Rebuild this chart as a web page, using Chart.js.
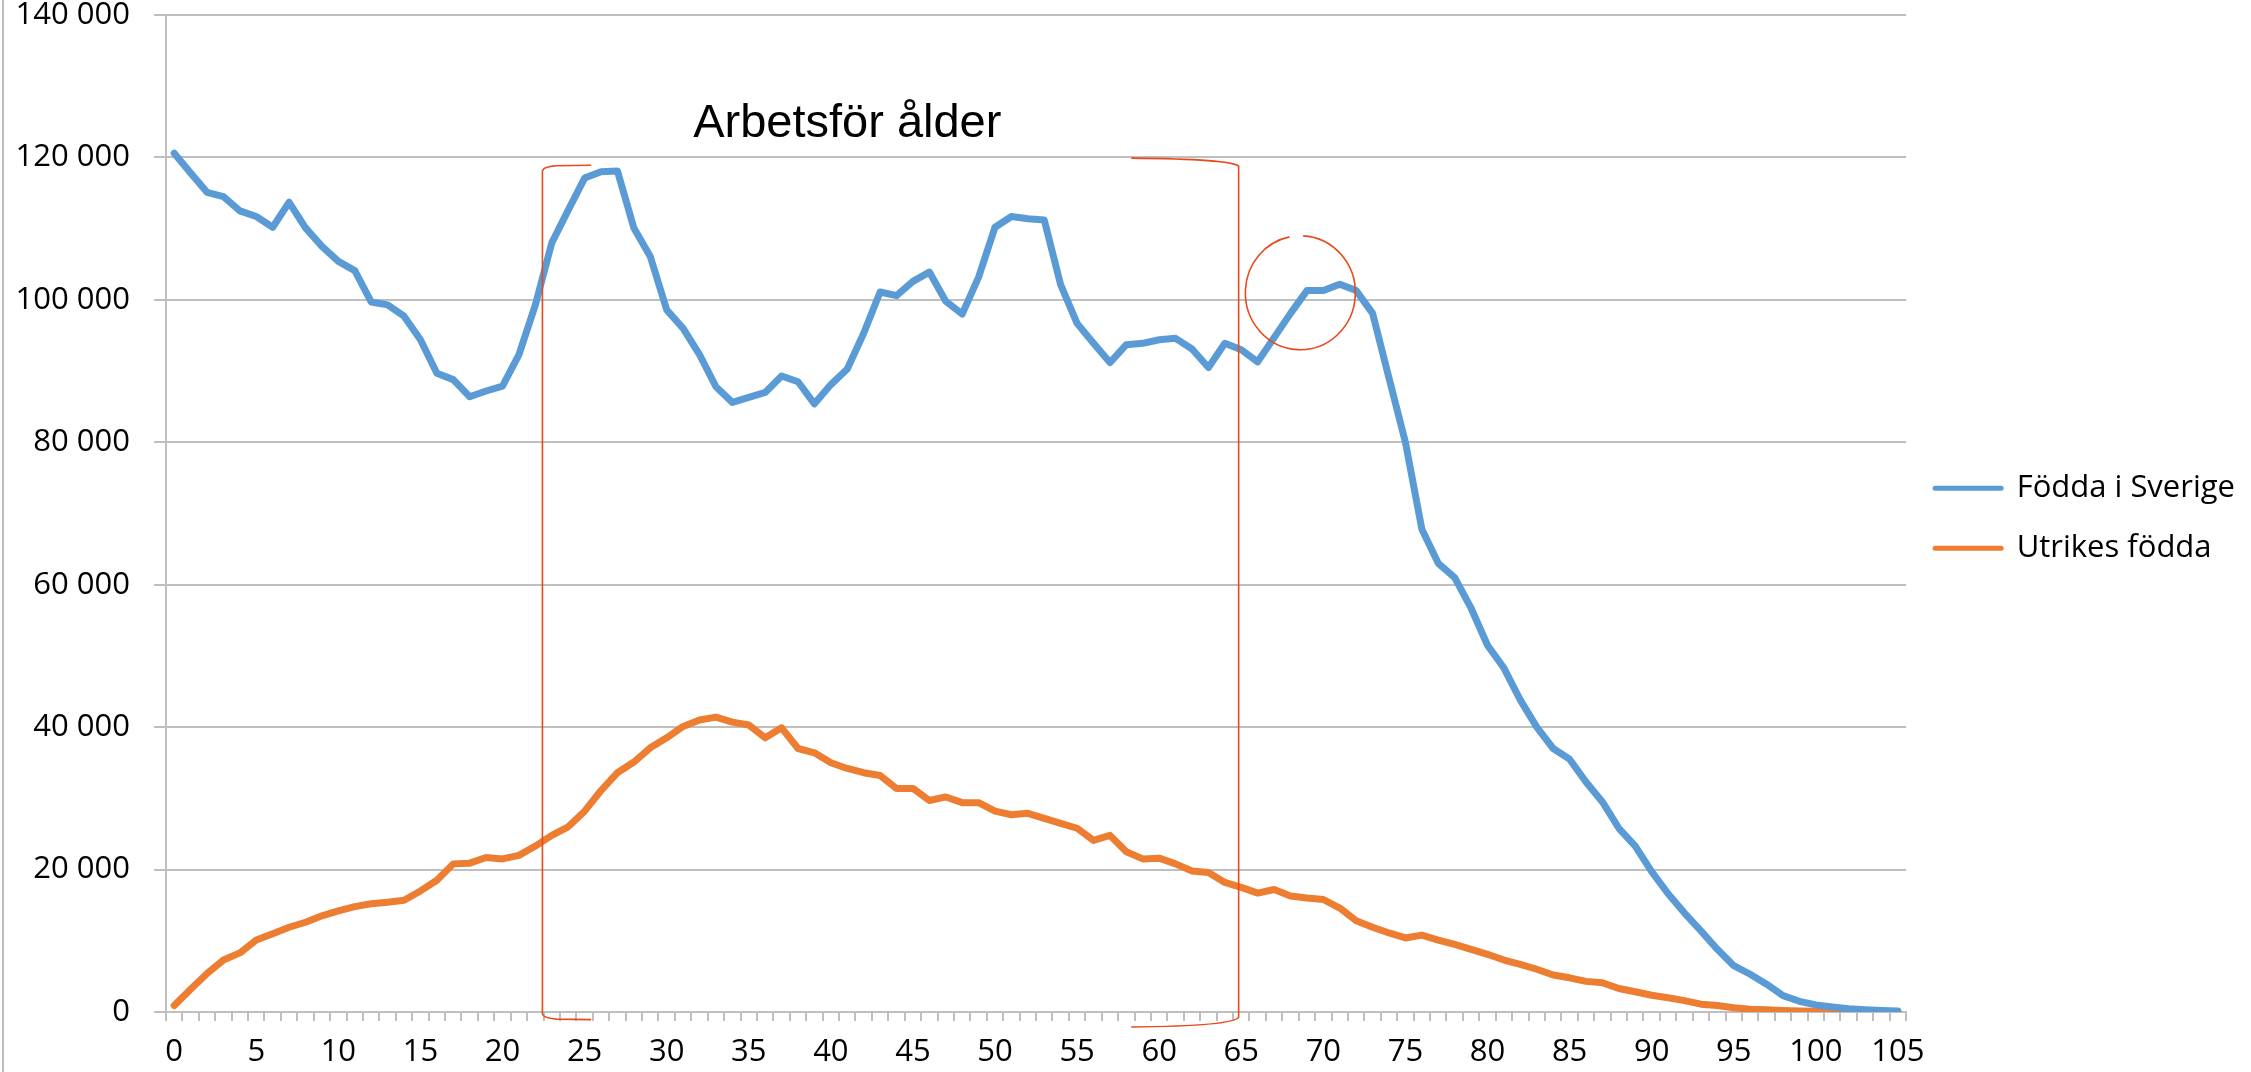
<!DOCTYPE html>
<html>
<head>
<meta charset="utf-8">
<script src="https://cdn.jsdelivr.net/npm/chart.js@4.4.0/dist/chart.umd.min.js"></script>
<style>
  html, body { margin: 0; padding: 0; background: #fff; overflow: hidden; }
  #wrap { width: 2251px; height: 1072px; }
</style>
</head>
<body>
<div id="wrap"><canvas id="myChart" width="2251" height="1072"></canvas></div>
<script>
var ages = ["0","1","2","3","4","5","6","7","8","9","10","11","12","13","14","15","16","17","18","19",
  "20","21","22","23","24","25","26","27","28","29","30","31","32","33","34","35","36","37","38","39",
  "40","41","42","43","44","45","46","47","48","49","50","51","52","53","54","55","56","57","58","59",
  "60","61","62","63","64","65","66","67","68","69","70","71","72","73","74","75","76","77","78","79",
  "80","81","82","83","84","85","86","87","88","89","90","91","92","93","94","95","96","97","98","99",
  "100","101","102","103","104","105"];

var foddaSverige = [120600, 117800, 115100, 114500, 112500, 111700, 110200, 113700, 110100, 107500,
  105400, 104100, 99700, 99300, 97700, 94400, 89700, 88800, 86400, 87200,
  87900, 92300, 99300, 108000, 112600, 117100, 118000, 118100, 110100, 106100,
  98600, 96000, 92300, 87800, 85600, 86300, 87000, 89300, 88500, 85400,
  88100, 90300, 95300, 101100, 100600, 102600, 103900, 99800, 98000, 103200,
  110200, 111700, 111400, 111200, 102100, 96700, 93900, 91200, 93700, 93900,
  94400, 94600, 93100, 90500, 93900, 93000, 91300, 94700, 98100, 101300,
  101300, 102200, 101300, 98100, 89000, 80000, 67800, 63000, 61000, 56700,
  51500, 48300, 43800, 40000, 37000, 35500, 32300, 29500, 25800, 23300,
  19700, 16600, 13900, 11400, 8800, 6500, 5300, 3900, 2300, 1500,
  1000, 700, 450, 300, 200, 150];

var utrikesFodda = [900, 3200, 5400, 7300, 8300, 10100, 11000, 11900, 12600, 13500,
  14200, 14800, 15200, 15400, 15700, 17000, 18500, 20800, 20900, 21700,
  21500, 22000, 23300, 24800, 26000, 28200, 31100, 33600, 35100, 37100,
  38500, 40100, 41000, 41400, 40700, 40300, 38500, 39900, 37000, 36400,
  35000, 34200, 33600, 33200, 31400, 31400, 29700, 30200, 29400, 29400,
  28200, 27700, 27900, 27200, 26500, 25800, 24100, 24800, 22500, 21500,
  21600, 20800, 19800, 19600, 18200, 17500, 16700, 17200, 16300, 16000,
  15800, 14600, 12800, 11900, 11100, 10400, 10800, 10100, 9500, 8800,
  8100, 7300, 6700, 6000, 5200, 4800, 4300, 4100, 3300, 2850,
  2350, 2000, 1600, 1100, 900, 600, 400, 300, 200, 150,
  100, 80, 50, 30, 20, 10];

var seriesNames = ["Födda i Sverige", "Utrikes födda"];
var yTicks = [0, 20000, 40000, 60000, 80000, 100000, 120000, 140000];

// annotation anchors (age index, value)
var bracketAges = [22.43, 64.84];
var circleAt = [68.6, 101000];

var tickFont = { family: "'Open Sans', sans-serif", size: 31 };
var red = "#e8491d";

function spaced(v) {
  return String(v).replace(/\B(?=(\d{3})+(?!\d))/g, " ");
}

var annotations = {
  id: "annotations",
  beforeDraw: function (chart) {
    var c = chart.ctx;
    c.save();
    c.strokeStyle = "#bdbdbd";
    c.lineWidth = 2;
    c.beginPath();
    c.moveTo(3, 0);
    c.lineTo(3, chart.height);
    c.stroke();
    c.restore();
  },
  afterDatasetsDraw: function (chart) {
    var c = chart.ctx, xs = chart.scales.x, ys = chart.scales.y;
    c.save();
    // title
    c.fillStyle = "#000";
    c.font = "47px 'Liberation Sans', Arial, sans-serif";
    c.textAlign = "center";
    c.textBaseline = "alphabetic";
    c.fillText("Arbetsför ålder", xs.getPixelForValue(41.0), ys.getPixelForValue(122800));

    c.strokeStyle = red;
    c.lineWidth = 1.6;
    // left bracket
    var lx = xs.getPixelForValue(bracketAges[0]);
    var lTop = ys.getPixelForValue(118900), lBot = ys.getPixelForValue(-1000);
    var lEnd = xs.getPixelForValue(25.4);
    c.beginPath();
    c.moveTo(lEnd, lTop);
    c.lineTo(lx + 14, lTop + 0.5);
    c.quadraticCurveTo(lx, lTop + 1.5, lx, lTop + 6);
    c.lineTo(lx, lBot - 5);
    c.quadraticCurveTo(lx + 1, lBot - 1, lx + 14, lBot);
    c.lineTo(lEnd, lBot + 0.5);
    c.stroke();
    // right bracket
    var rx = xs.getPixelForValue(bracketAges[1]);
    var rTop = ys.getPixelForValue(119900), rBot = ys.getPixelForValue(-2100);
    var rEnd = xs.getPixelForValue(58.3);
    c.beginPath();
    c.moveTo(rEnd, rTop);
    c.quadraticCurveTo(rx - 8, rTop + 1, rx, rTop + 8);
    c.lineTo(rx, rBot - 10);
    c.quadraticCurveTo(rx - 4, rBot - 1, rEnd, rBot);
    c.stroke();
    // circle
    var cx = xs.getPixelForValue(circleAt[0]), cy = ys.getPixelForValue(circleAt[1]);
    var rxE = Math.abs(xs.getPixelForValue(circleAt[0] + 3.35) - cx);
    var ryE = Math.abs(ys.getPixelForValue(circleAt[1] + 8000) - cy);
    c.beginPath();
    c.ellipse(cx, cy, rxE, ryE, 0, -Math.PI / 2 + 0.05, 1.5 * Math.PI - 0.2);
    c.stroke();
    c.restore();
  }
};

var ctx = document.getElementById("myChart").getContext("2d");
var myChart = new Chart(ctx, {
  type: "line",
  plugins: [annotations],
  data: {
    labels: ages,
    datasets: [
      {
        label: seriesNames[0],
        data: foddaSverige,
        borderColor: "#5b9bd5",
        backgroundColor: "#5b9bd5",
        borderWidth: 7,
        borderCapStyle: "round",
        borderJoinStyle: "round",
      },
      {
        label: seriesNames[1],
        data: utrikesFodda,
        borderColor: "#ed7d31",
        backgroundColor: "#ed7d31",
        borderWidth: 7,
        borderCapStyle: "round",
        borderJoinStyle: "round",
      },
    ],
  },
  options: {
    responsive: false,
    animation: false,
    devicePixelRatio: 1,
    layout: { padding: { left: 0, right: 6, top: 0, bottom: 0 } },
    elements: {
      line: { tension: 0 },
      point: { radius: 0, hoverRadius: 0 },
    },
    plugins: {
      tooltip: { enabled: false },
      legend: {
        position: "right",
        align: "center",
        fullSize: false,
        title: { display: true, text: "", font: { size: 8 }, padding: 0 },
        labels: {
          usePointStyle: true,
          pointStyle: "line",
          pointStyleWidth: 66,
          padding: 29,
          color: "#000",
          font: { family: "'Open Sans', sans-serif", size: 31 },
          generateLabels: function (chart) {
            var items = Chart.defaults.plugins.legend.labels.generateLabels(chart);
            items.forEach(function (it) { it.lineWidth = 5; it.lineCap = "round"; });
            return items;
          },
        },
      },
    },
    scales: {
      x: {
        type: "category",
        offset: true,
        grid: {
          display: true,
          drawOnChartArea: false,
          drawTicks: true,
          tickLength: 9,
          color: "#bfbfbf",
          lineWidth: 2,
          offset: true,
        },
        border: { display: true, color: "#bfbfbf", width: 2 },
        afterFit: function (axis) { axis.height = 60; },
        ticks: {
          autoSkip: false,
          maxRotation: 0,
          minRotation: 0,
          padding: 13,
          color: "#000",
          font: tickFont,
          callback: function (v, i) {
            return i % 5 === 0 ? ages[i] : "";
          },
        },
      },
      y: {
        min: yTicks[0],
        max: yTicks[yTicks.length - 1],
        grid: { color: "#bfbfbf", lineWidth: 2, tickLength: 12 },
        border: { display: true, color: "#bfbfbf", width: 2 },
        afterBuildTicks: function (axis) {
          axis.ticks = yTicks.map(function (v) { return { value: v }; });
        },
        afterFit: function (axis) {
          axis.width = 166;
          axis.paddingTop = 15;
          axis.paddingBottom = 0;
        },
        ticks: {
          padding: 24,
          color: "#000",
          font: tickFont,
          callback: function (v) { return spaced(v); },
        },
      },
    },
  },
});
</script>
</body>
</html>
